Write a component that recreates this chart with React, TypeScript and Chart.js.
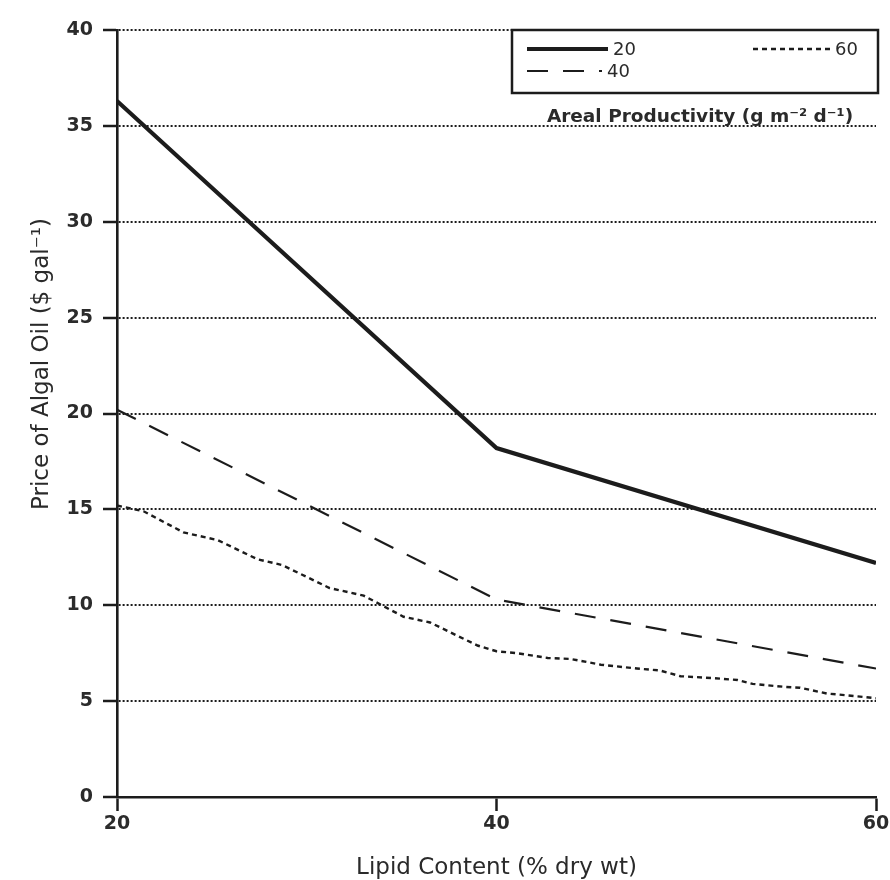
import { useEffect, useRef } from 'react';
import { Chart, registerables } from 'chart.js';

Chart.register(...registerables);

// ---- data ----
const lipid20 = [20, 40, 60];
const price20 = [36.3, 18.2, 12.2];

const lipid40 = [20, 40, 60];
const price40 = [20.2, 10.3, 6.7];

const lipid60 = [20, 21.4, 23.5, 25.3, 27.4, 28.7, 31.2, 33.0, 35.1, 36.5, 39.0, 40.0, 41.1, 42.7, 43.9, 45.5, 47.4, 48.6, 49.7, 51.4, 52.7, 53.5, 55.1, 56.0, 57.4, 58.5, 60];
const price60 = [15.2, 14.9, 13.8, 13.4, 12.4, 12.1, 10.9, 10.5, 9.4, 9.1, 7.9, 7.6, 7.5, 7.25, 7.2, 6.9, 6.7, 6.6, 6.3, 6.2, 6.1, 5.9, 5.75, 5.7, 5.4, 5.3, 5.15];

const seriesLabels = ['20', '40', '60'];
const xTicks = [20, 40, 60];
const yTicks = [0, 5, 10, 15, 20, 25, 30, 35, 40];
const xTitle = 'Lipid Content (% dry wt)';
const yTitle = 'Price of Algal Oil ($ gal⁻¹)';
const legendTitle = 'Areal Productivity (g m⁻² d⁻¹)';

const INK = '#1c1c1c';
const TEXT = '#2a2a2a';
const FONT = "'DejaVu Sans', 'Liberation Sans', sans-serif";

const toPoints = (xs: number[], ys: number[]) => xs.map((x, i) => ({ x, y: ys[i] }));

const yTitlePlugin = {
  id: 'yTitleText',
  afterDraw(chart: any) {
    const { ctx, chartArea } = chart;
    ctx.save();
    ctx.translate(42, chartArea.top + 334);
    ctx.rotate(-Math.PI / 2);
    ctx.font = `23px ${FONT}`;
    ctx.fillStyle = TEXT;
    ctx.textAlign = 'center';
    ctx.textBaseline = 'middle';
    ctx.fillText(yTitle, 0, 0);
    ctx.restore();
  },
};

const boxLegendPlugin = {
  id: 'boxLegend',
  afterDraw(chart: any) {
    const { ctx, chartArea } = chart;
    const datasets = chart.data.datasets;
    const right = chartArea.right + 2;
    const left = right - 366;
    const top = chartArea.top;
    const bottom = top + 63;
    ctx.save();
    ctx.fillStyle = '#ffffff';
    ctx.fillRect(left, top, right - left, bottom - top);
    ctx.lineWidth = 2.5;
    ctx.strokeStyle = INK;
    ctx.setLineDash([]);
    ctx.strokeRect(left, top, right - left, bottom - top);

    const entries = [
      { i: 0, x: left + 15, y: top + 19, len: 81 },
      { i: 1, x: left + 15, y: top + 41, len: 75 },
      { i: 2, x: left + 241, y: top + 19, len: 77 },
    ];
    ctx.font = `18px ${FONT}`;
    ctx.textBaseline = 'middle';
    ctx.textAlign = 'left';
    entries.forEach((e) => {
      const ds = datasets[e.i];
      ctx.save();
      ctx.strokeStyle = ds.borderColor;
      ctx.lineWidth = ds.borderWidth;
      ctx.setLineDash(ds.borderDash || []);
      ctx.beginPath();
      ctx.moveTo(e.x, e.y);
      ctx.lineTo(e.x + e.len, e.y);
      ctx.stroke();
      ctx.restore();
      ctx.fillStyle = TEXT;
      ctx.fillText(seriesLabels[e.i], e.x + e.len + 5, e.y + 1);
    });

    ctx.font = `bold 18.5px ${FONT}`;
    ctx.textAlign = 'center';
    ctx.textBaseline = 'alphabetic';
    ctx.fillStyle = TEXT;
    ctx.fillText(legendTitle, (left + right) / 2 + 5, bottom + 29);
    ctx.restore();
  },
};

export default function App() {
  const canvasRef = useRef<HTMLCanvasElement | null>(null);

  useEffect(() => {
    if (!canvasRef.current) return;
    const chart = new Chart(canvasRef.current, {
      type: 'line',
      data: {
        datasets: [
          {
            label: seriesLabels[0],
            data: toPoints(lipid20, price20),
            borderColor: INK,
            borderWidth: 4.2,
            borderDash: [],
            pointRadius: 0,
            tension: 0,
            fill: false,
          },
          {
            label: seriesLabels[1],
            data: toPoints(lipid40, price40),
            borderColor: INK,
            borderWidth: 2.2,
            borderDash: [21, 15],
            pointRadius: 0,
            tension: 0,
            fill: false,
          },
          {
            label: seriesLabels[2],
            data: toPoints(lipid60, price60),
            borderColor: INK,
            borderWidth: 2.4,
            borderDash: [5, 4],
            pointRadius: 0,
            tension: 0,
            fill: false,
          },
        ],
      },
      options: {
        responsive: false,
        animation: false,
        layout: { padding: { left: 0, right: 14, top: 30, bottom: 0 } },
        plugins: {
          legend: { display: false },
          tooltip: { enabled: false },
        },
        scales: {
          x: {
            type: 'linear',
            min: 20,
            max: 60,
            afterBuildTicks: (s: any) => {
              s.ticks = xTicks.map((v) => ({ value: v }));
            },
            afterFit: (s: any) => {
              s.height = 83;
              s.paddingLeft = 0;
              s.paddingRight = 0;
            },
            grid: {
              drawOnChartArea: false,
              drawTicks: true,
              tickLength: 14,
              tickWidth: 2.5,
              tickColor: INK,
            },
            border: { display: true, color: INK, width: 2.6 },
            ticks: {
              padding: 2,
              color: '#2b2b2b',
              maxRotation: 0,
              font: { family: FONT, size: 19, weight: 'bold' },
            },
            title: {
              display: true,
              text: xTitle,
              color: TEXT,
              font: { family: FONT, size: 23, lineHeight: 1 },
              padding: { top: 0, bottom: 0 },
            },
          },
          y: {
            type: 'linear',
            min: 0,
            max: 40,
            afterBuildTicks: (s: any) => {
              s.ticks = yTicks.map((v) => ({ value: v }));
            },
            afterFit: (s: any) => {
              s.width = 117;
              s.paddingTop = 0;
              s.paddingBottom = 0;
            },
            grid: {
              color: (c: any) => (c.tick && c.tick.value === 0 ? 'rgba(0,0,0,0)' : INK),
              lineWidth: 2,
              drawTicks: true,
              tickLength: 14,
              tickWidth: 2.5,
              tickColor: INK,
            },
            border: { display: true, color: INK, width: 2.6, dash: [2, 2] },
            ticks: {
              padding: 10,
              color: '#2b2b2b',
              font: { family: FONT, size: 19, weight: 'bold' },
            },
          },
        },
      },
      plugins: [yTitlePlugin, boxLegendPlugin],
    } as any);
    return () => chart.destroy();
  }, []);

  return (
    <div style={{ position: 'absolute', left: 0, top: 0, width: 890, height: 880, background: '#fff' }}>
      <canvas ref={canvasRef} width={890} height={880} style={{ display: 'block' }} />
    </div>
  );
}
